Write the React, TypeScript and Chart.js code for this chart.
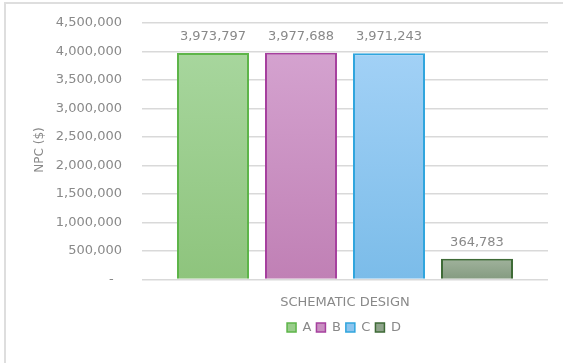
import React, { useEffect, useRef } from "react";
import { Chart, registerables } from "chart.js";

Chart.register(...registerables);

const categories = ["SCHEMATIC DESIGN"];
const seriesNames = ["A", "B", "C", "D"];
const seriesValues = [3973797, 3977688, 3971243, 364783];
const topColors = ["#a7d69d", "#d4a2cf", "#a2d1f6", "#a0b29c"];
const bottomColors = ["#8ec47d", "#c080b5", "#7bbce9", "#849b80"];
const borderColors = ["#5db549", "#a6409e", "#30a5dd", "#3e6a36"];
const legendFills = ["#99cd8b", "#c98fc1", "#8cc5ef", "#8fa48b"];
const yTicks = [0, 500000, 1000000, 1500000, 2000000, 2500000, 3000000, 3500000, 4000000, 4500000];
const yTitle = "NPC ($)";

const FONT = "'DejaVu Sans', sans-serif";
const TEXT = "#898989";

const fmt = (v: number) => (v === 0 ? "-  " : v.toLocaleString("en-US"));

const labelsPlugin = {
  id: "barLabels",
  afterLayout(chart: any) {
    const lg = chart.legend;
    if (lg) {
      lg.left += 70;
      lg.right += 70;
    }
  },
  afterDatasetsDraw(chart: any) {
    const ctx = chart.ctx;
    ctx.save();
    ctx.font = `13px ${FONT}`;
    ctx.fillStyle = TEXT;
    ctx.textAlign = "center";
    ctx.textBaseline = "middle";
    chart.data.datasets.forEach((ds: any, i: number) => {
      const meta = chart.getDatasetMeta(i);
      meta.data.forEach((el: any, j: number) => {
        ctx.fillText(fmt(ds.data[j]), el.x, el.y - 16.5);
      });
    });
    ctx.translate(40, 150);
    ctx.rotate(-Math.PI / 2);
    ctx.font = `12px ${FONT}`;
    ctx.fillText(yTitle, 0, 0);
    ctx.restore();
  },
};

export default function App() {
  const ref = useRef<HTMLCanvasElement>(null);
  useEffect(() => {
    if (!ref.current) return;
    const chart = new Chart(ref.current, {
      type: "bar",
      data: {
        labels: categories,
        datasets: seriesNames.map((name, i) => ({
          label: name,
          data: [seriesValues[i]],
          backgroundColor: (c: any) => {
            const ch = c.chart;
            const y = ch.scales && ch.scales.y;
            if (!y || c.type !== "data") return legendFills[i];
            const top = y.getPixelForValue(c.raw);
            const bot = y.getPixelForValue(0);
            if (!isFinite(top) || !isFinite(bot) || top === bot) return legendFills[i];
            const g = ch.ctx.createLinearGradient(0, top, 0, bot);
            g.addColorStop(0, topColors[i]);
            g.addColorStop(1, bottomColors[i]);
            return g;
          },
          borderColor: borderColors[i],
          borderWidth: 2,
          categoryPercentage: 0.867,
          barPercentage: 0.818,
        })),
      },
      options: {
        responsive: false,
        animation: false,
        layout: { padding: { left: 0, right: 15, top: 23, bottom: 19 } },
        plugins: {
          tooltip: { enabled: false },
          legend: {
            position: "bottom",
            labels: {
              boxWidth: 9,
              boxHeight: 9,
              padding: 5,
              color: TEXT,
              font: { family: FONT, size: 13 },
              generateLabels: () =>
                seriesNames.map((n, i) => ({
                  text: n,
                  fillStyle: legendFills[i],
                  strokeStyle: borderColors[i],
                  lineWidth: 1.5,
                  fontColor: TEXT,
                  datasetIndex: i,
                  hidden: false,
                })),
            },
          },
        },
        scales: {
          x: {
            grid: { display: false, drawTicks: false },
            border: { display: false },
            ticks: { color: TEXT, font: { family: FONT, size: 13 }, padding: 15 },
            afterFit: (s: any) => {
              s.height = 36.5;
            },
          },
          y: {
            min: 0,
            max: 4500000,
            afterBuildTicks: (s: any) => {
              s.ticks = yTicks.map((v) => ({ value: v }));
            },
            grid: { color: "#d9d9d9", lineWidth: 1.5, drawTicks: false },
            border: { display: false },
            ticks: {
              color: TEXT,
              font: { family: FONT, size: 13 },
              padding: 20,
              callback: (v: any) => fmt(Number(v)),
            },
            afterFit: (s: any) => {
              s.width = 142;
              s.paddingTop = 0;
              s.paddingBottom = 0;
            },
          },
        },
      },
      plugins: [labelsPlugin],
    });
    return () => chart.destroy();
  }, []);

  return (
    <div
      style={{
        position: "fixed",
        left: 0,
        top: 0,
        width: 563,
        height: 363,
        overflow: "hidden",
        background: "#fff",
      }}
    >
      <div
        style={{
          position: "absolute",
          left: 4,
          top: 2,
          width: 700,
          height: 500,
          borderLeft: "2px solid #dedede",
          borderTop: "2px solid #dedede",
        }}
      />
      <canvas ref={ref} width={563} height={363} style={{ position: "absolute", left: 0, top: 0 }} />
    </div>
  );
}
